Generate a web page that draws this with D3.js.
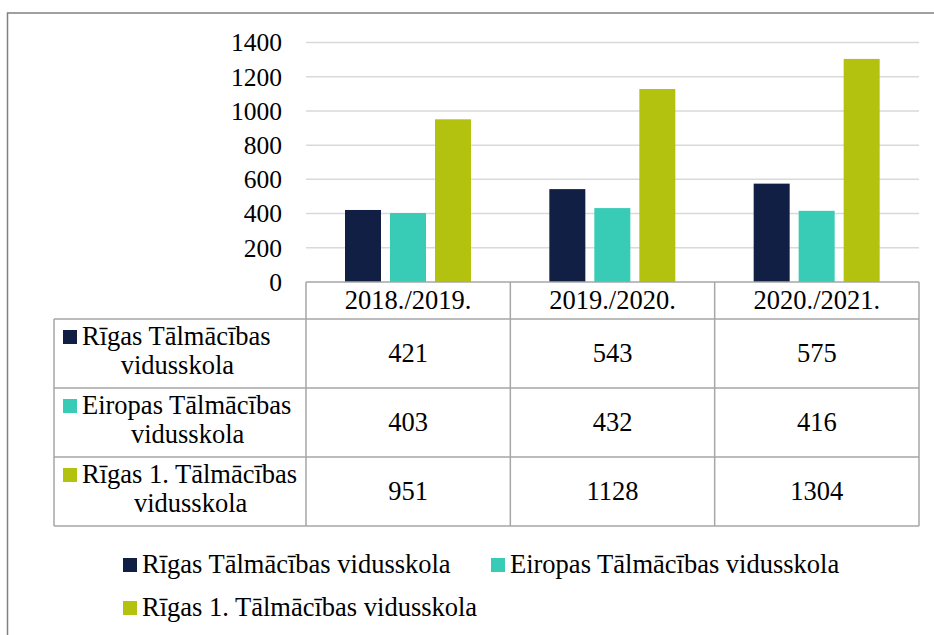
<!DOCTYPE html>
<html>
<head>
<meta charset="utf-8">
<script src="https://cdn.jsdelivr.net/npm/d3@7"></script>
<style>
  body { margin: 0; background: #fff; }
  svg, svg text { font-family: "Liberation Serif", "Times New Roman", serif; fill: #000; }
</style>
</head>
<body>
<svg id="chart" width="934" height="635" font-family="Liberation Serif"></svg>
<script>
var years = ["2018./2019.", "2019./2020.", "2020./2021."];
var schools = ["Rīgas Tālmācības vidusskola", "Eiropas Tālmācības vidusskola", "Rīgas 1. Tālmācības vidusskola"];
var rigas = [421, 543, 575];
var eiropas = [403, 432, 416];
var rigas1 = [951, 1128, 1304];
var yTicks = [0, 200, 400, 600, 800, 1000, 1200, 1400];
var colors = ["#121f45", "#38cbb5", "#b3c10f"];

var series = [rigas, eiropas, rigas1];
var fs = 26.5;

var svg = d3.select("#chart");

// outer frame
svg.append("rect")
  .attr("x", 7.5).attr("y", 13)
  .attr("width", 940).attr("height", 640)
  .attr("fill", "none")
  .attr("stroke", "#808080")
  .attr("stroke-width", 1.5);

var x = d3.scaleBand().domain(years).range([306, 919]);
var xInner = d3.scaleBand().domain(d3.range(3)).range([39, 165]).paddingInner(0.2);
var y = d3.scaleLinear().domain([0, 1400]).range([282, 42.5]);

// gridlines
svg.append("g")
  .selectAll("line")
  .data(yTicks.slice(1))
  .enter().append("line")
    .attr("x1", 306).attr("x2", 919)
    .attr("y1", function (d) { return y(d) })
    .attr("y2", function (d) { return y(d) })
    .attr("stroke", "#d9d9d9")
    .attr("stroke-width", 1.5);

// y axis labels
var yAxis = d3.axisLeft(y).tickValues(yTicks).tickSize(0).tickPadding(0).tickFormat(d3.format("d"));
var yg = svg.append("g").attr("transform", "translate(282,0)").call(yAxis)
  .attr("font-family", "Liberation Serif").attr("font-size", 25.5);
yg.select(".domain").remove();
yg.selectAll("text")
  .attr("fill", "#000")
  .attr("dy", "0.33em");

// bars
var groups = svg.append("g")
  .selectAll("g")
  .data(years)
  .enter().append("g")
    .attr("transform", function (d) { return "translate(" + x(d) + ",0)" });

groups.selectAll("rect")
  .data(function (d, i) { return series.map(function (s, k) { return { k: k, v: s[i] } }) })
  .enter().append("rect")
    .attr("x", function (d) { return xInner(d.k) })
    .attr("width", xInner.bandwidth())
    .attr("y", function (d) { return y(d.v) })
    .attr("height", function (d) { return y(0) - y(d.v) })
    .attr("fill", function (d) { return colors[d.k] });

// data table
var rowTops = [282, 319, 388, 457, 526];
var tableLeft = 54;
var lineColor = "#a6a6a6";
var table = svg.append("g");

// horizontal lines
table.append("line")
  .attr("x1", 306).attr("x2", 919).attr("y1", rowTops[0]).attr("y2", rowTops[0])
  .attr("stroke", lineColor).attr("stroke-width", 1.5);
rowTops.slice(1).forEach(function (t) {
  table.append("line")
    .attr("x1", tableLeft).attr("x2", 919).attr("y1", t).attr("y2", t)
    .attr("stroke", lineColor).attr("stroke-width", 1.5);
});
// vertical lines
table.append("line")
  .attr("x1", tableLeft).attr("x2", tableLeft).attr("y1", rowTops[1]).attr("y2", rowTops[4])
  .attr("stroke", lineColor).attr("stroke-width", 1.5);
[306].concat(years.map(function (d) { return x(d) + x.bandwidth() })).forEach(function (v) {
  table.append("line")
    .attr("x1", v).attr("x2", v).attr("y1", rowTops[0]).attr("y2", rowTops[4])
    .attr("stroke", lineColor).attr("stroke-width", 1.5);
});

// header
table.selectAll("text.hdr")
  .data(years)
  .enter().append("text")
    .attr("class", "hdr")
    .attr("x", function (d) { return x(d) + x.bandwidth() / 2 })
    .attr("y", 309)
    .attr("text-anchor", "middle")
    .attr("font-size", fs)
    .text(function (d) { return d });

// row labels and values
var labelLines = [
  ["Rīgas Tālmācības", "vidusskola"],
  ["Eiropas Tālmācības", "vidusskola"],
  ["Rīgas 1. Tālmācības", "vidusskola"]
];
series.forEach(function (s, k) {
  var top = rowTops[k + 1];
  var textLeft = 82;
  table.append("rect")
    .attr("x", 63).attr("y", top + 11)
    .attr("width", 14).attr("height", 14)
    .attr("fill", colors[k]);
  var t1 = table.append("text")
    .attr("x", textLeft).attr("y", top + 26)
    .attr("font-size", fs)
    .text(labelLines[k][0]);
  var w = t1.node().getComputedTextLength();
  table.append("text")
    .attr("x", textLeft + w / 2 + 1).attr("y", top + 55)
    .attr("text-anchor", "middle")
    .attr("font-size", fs)
    .text(labelLines[k][1]);
  years.forEach(function (yr, i) {
    table.append("text")
      .attr("x", x(yr) + x.bandwidth() / 2)
      .attr("y", top + 43)
      .attr("text-anchor", "middle")
      .attr("font-size", fs)
      .text(s[i]);
  });
});

// legend
var legendPos = [[123, 573], [491, 573], [123, 616]];
var legend = svg.append("g")
  .selectAll("g")
  .data(schools)
  .enter().append("g")
    .attr("transform", function (d, i) { return "translate(" + legendPos[i][0] + "," + legendPos[i][1] + ")" });
legend.append("rect")
  .attr("x", 0).attr("y", -15)
  .attr("width", 14).attr("height", 14)
  .attr("fill", function (d, i) { return colors[i] });
legend.append("text")
  .attr("x", 19).attr("y", 0)
  .attr("font-size", fs)
  .text(function (d) { return d });
</script>
</body>
</html>
